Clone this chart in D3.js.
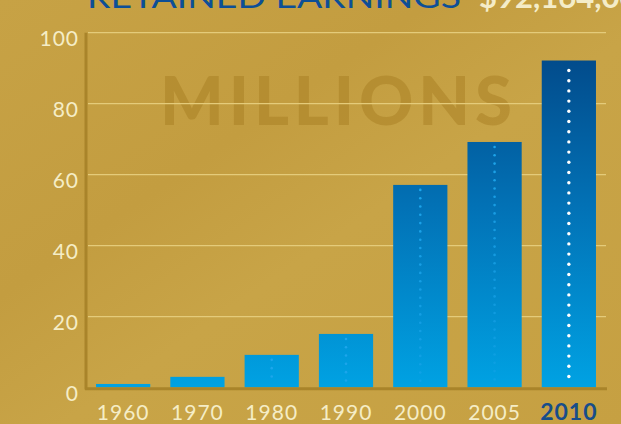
<!DOCTYPE html>
<html><head><meta charset="utf-8">
<script src="https://cdn.jsdelivr.net/npm/d3@7"></script>
<style>html,body{margin:0;padding:0;overflow:hidden;background:#c6a245}</style>
</head><body>
<svg id="chart" width="621" height="424"></svg>
<script>
const categories = ["1960","1970","1980","1990","2000","2005","2010"];
const values = [1.0, 3.0, 9.2, 15.1, 57.1, 69.2, 92.16];
const yTicks = [0, 20, 40, 60, 80, 100];
const titleText = "RETAINED EARNINGS";
const titleValue = "$92,164,000";

const W = 621, H = 424;
const FONT = "Lato, 'DejaVu Sans', sans-serif";
const svg = d3.select("#chart");
const defs = svg.append("defs");

const bg = defs.append("linearGradient").attr("id","bg").attr("x1","0").attr("y1","0").attr("x2","1").attr("y2","1");
bg.append("stop").attr("offset","0").attr("stop-color","#c7a245");
bg.append("stop").attr("offset","0.35").attr("stop-color","#c39d40");
bg.append("stop").attr("offset","0.55").attr("stop-color","#c8a447");
bg.append("stop").attr("offset","1").attr("stop-color","#c6a042");
svg.append("rect").attr("width",W).attr("height",H).attr("fill","url(#bg)");

const x = d3.scaleBand().domain(categories).range([86, 606]).paddingInner(0.27).paddingOuter(0.135);
const y = d3.scaleLinear().domain([0, 100]).range([387.5, 32.7]);

const bar = defs.append("linearGradient").attr("id","barg").attr("gradientUnits","userSpaceOnUse")
  .attr("x1",0).attr("x2",0).attr("y1",y(92)).attr("y2",y(0));
bar.append("stop").attr("offset","0").attr("stop-color","#024c8c");
bar.append("stop").attr("offset","0.45").attr("stop-color","#0272b6");
bar.append("stop").attr("offset","1").attr("stop-color","#00a2e3");

// title (cut off at the top edge, as in the reference)
svg.append("text").attr("x",87).attr("y",8).attr("textLength",374).attr("lengthAdjust","spacingAndGlyphs")
  .attr("font-family",FONT).attr("font-size",31).attr("fill","#0d4f96").text(titleText);
svg.append("text").attr("x",479).attr("y",8)
  .attr("font-family",FONT).attr("font-size",31).attr("font-weight","bold").attr("fill","#f4ecc8").text(titleValue);

// watermark
svg.append("text").attr("x",160).attr("y",125).attr("textLength",352).attr("lengthAdjust","spacing")
  .attr("font-family",FONT).attr("font-weight",900).attr("font-size",67)
  .attr("fill","#a37a1e").attr("fill-opacity",0.45).text("MILLIONS");

// gridlines
svg.append("g").selectAll("line").data(yTicks.filter(d=>d>0)).join("line")
  .attr("x1",88).attr("x2",606).attr("y1",d=>y(d)).attr("y2",d=>y(d))
  .attr("stroke","#e4cb7a").attr("stroke-width",1.3);

// y axis labels
const yAxis = d3.axisLeft(y).tickValues(yTicks).tickSize(0).tickPadding(0);
const gy = svg.append("g").attr("transform","translate(79,0)").call(yAxis);
gy.select(".domain").remove();
gy.selectAll("text").attr("fill","#f5edc6").attr("font-family",FONT)
  .attr("font-size",21).attr("dy","0.6em").attr("letter-spacing",1);

// bars
svg.append("g").selectAll("rect").data(values).join("rect")
  .attr("x",(d,i)=>x(categories[i])).attr("width",x.bandwidth())
  .attr("y",d=>y(d)).attr("height",d=>y(0)-y(d)).attr("fill","url(#barg)");

// dotted centre lines
values.forEach((v,i)=>{
  const cx = x(categories[i]) + x.bandwidth()/2;
  const isLast = i === values.length-1;
  const step = isLast ? 10.2 : 8.3;
  const top = y(v) + (isLast ? 10 : 5);
  const bottom = y(0) - 6;
  if (bottom - top < 15) return;
  const pts = d3.range(top, bottom, step);
  svg.append("g").selectAll("circle").data(pts).join("circle")
    .attr("cx",cx).attr("cy",d=>d).attr("r",isLast?1.7:1.3)
    .attr("fill",isLast?"#ffffff":"#1ea6ec")
    .attr("fill-opacity",d=>isLast?1:Math.max(0.2,1-(d-top)/(y(0)-y(92))*0.9));
});

// axes lines
svg.append("line").attr("x1",86).attr("x2",86).attr("y1",y(100)).attr("y2",389.5)
  .attr("stroke","#a9842a").attr("stroke-width",3);
svg.append("line").attr("x1",85).attr("x2",607).attr("y1",388.8).attr("y2",388.8)
  .attr("stroke","#a9842a").attr("stroke-width",3);

// x labels
const xAxis = d3.axisBottom(x).tickSize(0).tickPadding(0);
const gx = svg.append("g").attr("transform","translate(0,0)").call(xAxis);
gx.select(".domain").remove();
gx.selectAll("text").attr("font-family",FONT).attr("y",420).attr("dy",0)
  .attr("letter-spacing",1)
  .attr("fill",d=>d==="2010"?"#174d8a":"#f5edc6")
  .attr("font-weight",d=>d==="2010"?"bold":"normal")
  .attr("font-size",d=>d==="2010"?23:21);
</script>
</body></html>
